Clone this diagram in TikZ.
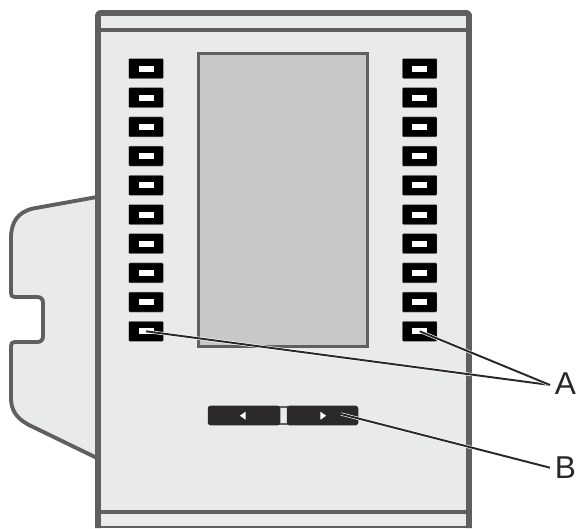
\documentclass[tikz,border=0pt]{standalone}
\usepackage{xcolor}
\usepackage{fontspec}
\setmainfont{Liberation Sans}
\usetikzlibrary{shapes.geometric, positioning, calc}
\definecolor{framegray}{RGB}{95, 95, 95}
\definecolor{bodygray}{RGB}{233, 235, 234}
\definecolor{screengray}{RGB}{200, 200, 200}
\definecolor{softkey}{RGB}{44, 42, 41}
\definecolor{leadergray}{RGB}{40, 40, 40}

\begin{document}
\begin{tikzpicture}[
    x=0.02cm, y=-0.02cm,
    clip/.style={draw=framegray, line width=2.2pt, fill=bodygray, line join=round},
    housing/.style={draw=framegray, line width=6pt*0.567, line join=round},
    key/.style={fill=black, draw=framegray!60, line width=0.2pt, minimum width=34.5*0.02cm, minimum height=20*0.02cm,
                inner sep=0pt, rounded corners=0.5pt},
    lamp/.style={fill=white, minimum width=15*0.02cm, minimum height=6*0.02cm, inner sep=0pt},
    navkey/.style={fill=softkey, minimum height=19.6*0.02cm, inner sep=0pt, rounded corners=1.5pt},
    marker/.style={isosceles triangle, isosceles triangle apex angle=70, fill=white, minimum height=5*0.02cm,
                   minimum width=8*0.02cm, inner sep=0pt},
    leader/.style={leadergray, line width=1.1pt, preaction={draw=white, line width=1.8pt}},
    callout/.style={font=\fontsize{18}{18}\selectfont, text=leadergray, inner sep=0pt}
]
    \useasboundingbox (0,0) rectangle (578,528);

    % mounting clip
    \draw[clip] (97,197) -- (33,208.5) .. controls (18,212) and (11,222) .. (11,238)
        -- (11,293) .. controls (11,296) and (12,297) .. (15,297) -- (37,297)
        .. controls (41,297) and (43,299) .. (43,303) -- (43,336)
        .. controls (43,340) and (41,342) .. (37,342) -- (15,342)
        .. controls (12,342) and (11,343) .. (11,346) -- (11,398)
        .. controls (11,410) and (16,418) .. (29,425) -- (97,458);

    % housing
    \fill[bodygray] (98,13) rectangle (469,527);
    \draw[housing, rounded corners=1.5pt] (98,528) -- (98,13) -- (469,13) -- (469,528);
    \draw[housing, line width=4pt*0.567] (98,30) -- (469,30);
    \draw[housing, line width=4pt*0.567] (98,512) -- (469,512);
    \fill[framegray] (95,525.5) rectangle (472,528);

    % display
    \node[draw=framegray, fill=screengray, line width=1.9pt, minimum width=169*0.02cm, minimum height=293*0.02cm,
          inner sep=0pt] (screen) at (283,200) {};

    % line keys
    \foreach \row in {1,...,10} {
        \node[key] (lkey\row) at (146,{68.5+(\row-1)*29.2}) {};
        \node[lamp] (llamp\row) at (lkey\row.center) {};
        \node[key] (rkey\row) at (419.7,{68.5+(\row-1)*29.2}) {};
        \node[lamp] (rlamp\row) at (rkey\row.center) {};
    }

    % page keys
    \node[draw=framegray, fill=bodygray, line width=0.8pt, minimum width=12*0.02cm, minimum height=17*0.02cm,
          inner sep=0pt] (navlink) at (283.3,415.5) {};
    \node[navkey, minimum width=72.5*0.02cm] (prevkey) at (244,415.5) {};
    \node[navkey, minimum width=71.5*0.02cm] (nextkey) at (322.5,415.5) {};
    \node[marker, shape border rotate=180] (prevmark) at (243.5,415.7) {};
    \node[marker] (nextmark) at (322.5,415.7) {};

    % labels
    \node[callout] (labela) at (565.5,383.5) {A};
    \node[callout] (labelb) at (565.5,467.5) {B};
    \coordinate (tipa) at (550,385);
    \coordinate (tipb) at (550,467.7);
    \coordinate (endb) at (341,414);

    \draw[leader] (lkey10.center) -- (tipa);
    \draw[leader] (rkey10.center) -- (tipa);
    \draw[leader] (endb) -- (tipb);
\end{tikzpicture}
\end{document}
